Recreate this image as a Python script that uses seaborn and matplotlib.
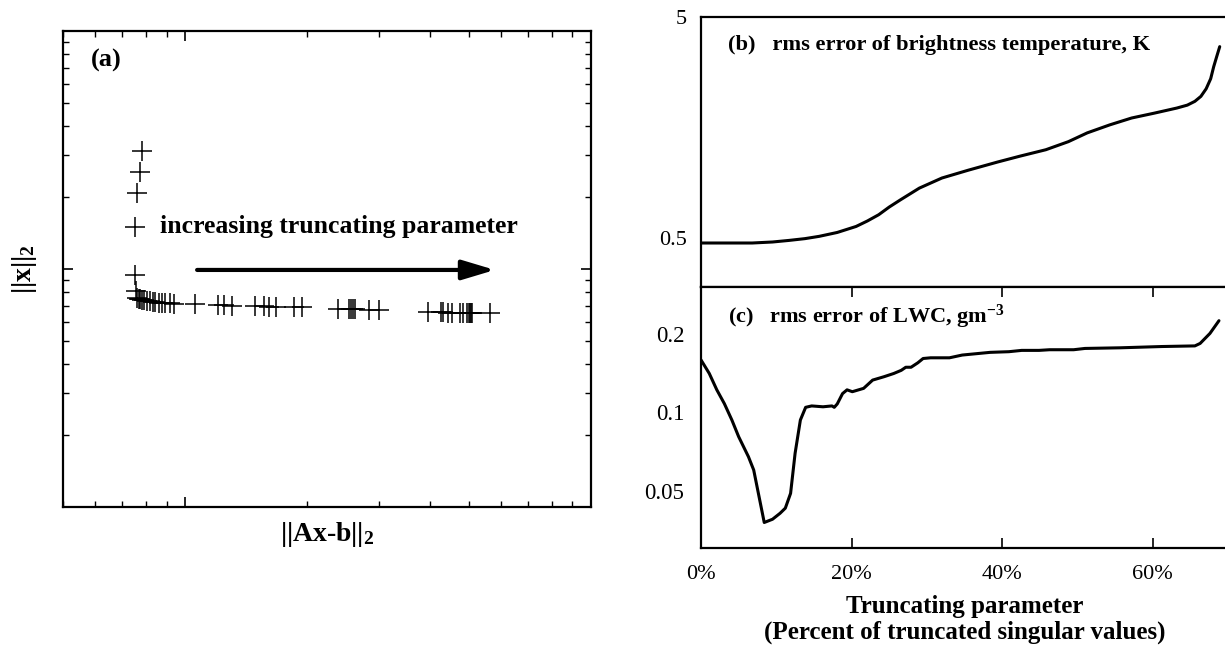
import numpy as np
import pandas as pd
import matplotlib
matplotlib.use("Agg")
import matplotlib.pyplot as plt
import seaborn as sns
from matplotlib.ticker import NullFormatter, LogLocator, FixedLocator, FixedFormatter

# (a) L-curve: residual norm ||Ax-b|| vs solution norm ||x|| (arbitrary log units)
resid_norm = [0.783, 0.774, 0.762, 0.754, 0.754, 0.757, 0.761, 0.768, 0.774, 0.783,
              0.793, 0.804, 0.820, 0.832, 0.845, 0.861, 0.876, 0.894, 0.915, 0.941,
              1.060, 1.204, 1.243, 1.306, 1.489, 1.564, 1.609, 1.678, 1.851, 1.941,
              2.381, 2.535, 2.559, 2.593, 2.623, 2.836, 3.001, 3.972, 4.270, 4.326,
              4.450, 4.537, 4.756, 4.831, 4.959, 4.999, 5.035, 5.073, 5.102, 5.641]
soln_norm = [3.14, 2.56, 2.08, 1.505, 0.944, 0.808, 0.753, 0.748, 0.746, 0.741,
             0.739, 0.736, 0.732, 0.727, 0.725, 0.722, 0.720, 0.718, 0.718, 0.715,
             0.711, 0.706, 0.704, 0.701, 0.697, 0.697, 0.694, 0.694, 0.690, 0.690,
             0.681, 0.679, 0.679, 0.679, 0.677, 0.675, 0.675, 0.660, 0.658, 0.658,
             0.656, 0.656, 0.655, 0.655, 0.655, 0.655, 0.655, 0.655, 0.655, 0.652]

# (b) rms error of brightness temperature (K) vs truncation percent
trunc_b = [0, 6.8, 9.5, 11.7, 13.8, 15.7, 18.1, 20.6, 22.1, 23.6, 25.0, 26.5, 29.0,
           32.0, 35.5, 39.4, 42.4, 45.8, 48.8, 51.3, 54.3, 57.2, 60.2, 63.2, 64.6,
           65.6, 66.4, 67.1, 67.7, 68.1, 68.5, 68.9]
tb_rms = [0.473, 0.473, 0.478, 0.486, 0.495, 0.507, 0.528, 0.562, 0.595, 0.635, 0.688,
          0.742, 0.838, 0.931, 1.01, 1.10, 1.17, 1.25, 1.36, 1.49, 1.62, 1.74, 1.83,
          1.93, 1.99, 2.07, 2.18, 2.36, 2.62, 2.97, 3.30, 3.66]

# (c) rms error of LWC (g m^-3) vs truncation percent
trunc_c = [0, 1.1, 2.1, 3.1, 4.1, 5.0, 6.3, 7.0, 7.8, 8.4, 9.5, 10.5, 11.2, 11.9, 12.5,
           13.2, 13.9, 14.7, 16.2, 17.4, 17.7, 18.1, 18.8, 19.4, 20.1, 21.6, 22.8, 24.3,
           25.6, 26.6, 27.2, 27.9, 28.8, 29.5, 30.5, 33.0, 34.7, 38.4, 40.9, 42.6, 44.9,
           46.3, 49.5, 51.0, 55.7, 61.2, 65.6, 66.3, 67.6, 68.8]
lwc_rms = [0.159, 0.141, 0.122, 0.108, 0.0934, 0.0806, 0.0675, 0.060, 0.046, 0.0377,
           0.0388, 0.0409, 0.0428, 0.0488, 0.0696, 0.0934, 0.1045, 0.1058, 0.105, 0.1058,
           0.1045, 0.1077, 0.118, 0.122, 0.120, 0.1236, 0.133, 0.137, 0.141, 0.145,
           0.149, 0.149, 0.155, 0.161, 0.162, 0.162, 0.166, 0.170, 0.171, 0.173, 0.173,
           0.174, 0.174, 0.176, 0.177, 0.179, 0.180, 0.184, 0.201, 0.225]

pct_ticks = [0, 20, 40, 60]
pct_labels = ["0%", "20%", "40%", "60%"]

sns.set_style("white")
plt.rcParams['font.family'] = ['Liberation Serif', 'DejaVu Serif']
plt.rcParams['mathtext.fontset'] = 'custom'
plt.rcParams['mathtext.rm'] = 'Liberation Serif'
plt.rcParams['mathtext.bf'] = 'Liberation Serif:bold'
plt.rcParams['mathtext.it'] = 'Liberation Serif:italic'
plt.rcParams['text.color'] = 'black'
plt.rcParams['axes.labelcolor'] = 'black'
plt.rcParams['xtick.color'] = 'black'
plt.rcParams['ytick.color'] = 'black'

W, H = 1225, 647
fig = plt.figure(figsize=(W / 100, H / 100), dpi=100)

ax_a = fig.add_axes([63 / W, 1 - 507 / H, 528 / W, 476 / H])
ax_b = fig.add_axes([701 / W, 1 - 286.7 / H, 527 / W, 270 / H])
ax_c = fig.add_axes([701 / W, 1 - 548.3 / H, 527 / W, 261.6 / H])

for ax in (ax_a, ax_b, ax_c):
    for s in ax.spines.values():
        s.set_linewidth(1.6)
        s.set_color('black')

# panel (a): crosses only, no connecting line
df_a = pd.DataFrame({'resid': resid_norm, 'norm': soln_norm})
sns.lineplot(data=df_a, x='resid', y='norm', sort=False, estimator=None, ax=ax_a,
             color='black', lw=0, marker='+', markersize=15, mew=1.1, mec='black')
ax_a.set_xscale('log')
ax_a.set_yscale('log')
ax_a.set_xlim(0.5, 10)
ax_a.set_ylim(0.1, 10)
ax_a.xaxis.set_major_locator(LogLocator(base=10))
ax_a.yaxis.set_major_locator(LogLocator(base=10))
ax_a.xaxis.set_minor_locator(LogLocator(base=10, subs=np.arange(2, 10) * 1.0, numticks=20))
ax_a.yaxis.set_minor_locator(LogLocator(base=10, subs=np.arange(2, 10) * 1.0, numticks=20))
ax_a.xaxis.set_major_formatter(NullFormatter())
ax_a.yaxis.set_major_formatter(NullFormatter())
ax_a.xaxis.set_minor_formatter(NullFormatter())
ax_a.yaxis.set_minor_formatter(NullFormatter())
ax_a.tick_params(which='major', direction='in', length=7, width=1.2,
                 top=True, right=True, bottom=True, left=True)
ax_a.tick_params(which='minor', direction='in', length=4, width=1.0,
                 top=True, right=True, bottom=True, left=True)
ax_a.set_xlabel(r'||Ax-b||$_\mathbf{2}$', fontsize=20, fontweight='bold', labelpad=6)
ax_a.set_ylabel(r'||x||$_\mathbf{2}$', fontsize=20, fontweight='bold', labelpad=14)
ax_a.text(0.053, 0.939, '(a)', transform=ax_a.transAxes, fontsize=19,
          fontweight='bold', va='center', ha='left')
ax_a.text(0.184, 0.589, 'increasing truncating parameter', transform=ax_a.transAxes,
          fontsize=18.5, fontweight='bold', va='center', ha='left')
ax_a.annotate('', xy=(0.818, 0.498), xytext=(0.254, 0.498),
              xycoords='axes fraction', textcoords='axes fraction',
              arrowprops=dict(arrowstyle='-|>,head_length=1.0,head_width=0.3',
                              mutation_scale=20, lw=3, color='black',
                              shrinkA=0, shrinkB=0))

# panel (b)
df_b = pd.DataFrame({'pct': trunc_b, 'rms': tb_rms})
sns.lineplot(data=df_b, x='pct', y='rms', ax=ax_b, color='black', lw=2.2)
ax_b.set_yscale('log')
ax_b.set_xlim(0, 70)
ax_b.set_ylim(0.3, 5)
ax_b.yaxis.set_major_locator(FixedLocator([0.5, 5]))
ax_b.yaxis.set_major_formatter(FixedFormatter(['0.5', '5']))
ax_b.yaxis.set_minor_locator(FixedLocator([]))
ax_b.set_xticks([])
ax_b.set_xlabel('')
ax_b.set_ylabel('')
ax_b.tick_params(axis='y', direction='in', length=7, width=1.2, labelsize=16, pad=10)
ax_b.text(0.0507, 0.895, '(b)   rms error of brightness temperature, K',
          transform=ax_b.transAxes, fontsize=16.2, fontweight='bold', va='center', ha='left')

# panel (c)
df_c = pd.DataFrame({'pct': trunc_c, 'rms': lwc_rms})
sns.lineplot(data=df_c, x='pct', y='rms', ax=ax_c, color='black', lw=2.2)
ax_c.set_yscale('log')
ax_c.set_xlim(0, 70)
ax_c.set_ylim(0.03, 0.304)
ax_c.yaxis.set_major_locator(FixedLocator([0.05, 0.1, 0.2]))
ax_c.yaxis.set_major_formatter(FixedFormatter(['0.05', '0.1', '0.2']))
ax_c.yaxis.set_minor_locator(FixedLocator([]))
ax_c.set_xticks(pct_ticks)
ax_c.set_xticklabels(pct_labels)
ax_c.tick_params(axis='y', length=0, labelsize=16.5, pad=12)
ax_c.tick_params(axis='x', direction='in', length=7, width=1.2, labelsize=16, pad=12,
                 top=True, bottom=True)
ax_c.set_ylabel('')
ax_c.set_xlabel('Truncating parameter\n(Percent of truncated singular values)',
                fontsize=18, fontweight='bold', labelpad=8, linespacing=1.15)
ax_c.text(0.0507, 0.885, r'(c)   rms error of LWC, gm$^{\mathbf{-3}}$',
          transform=ax_c.transAxes, fontsize=16, fontweight='bold', va='center', ha='left')

fig.savefig('out.png', dpi=100)
